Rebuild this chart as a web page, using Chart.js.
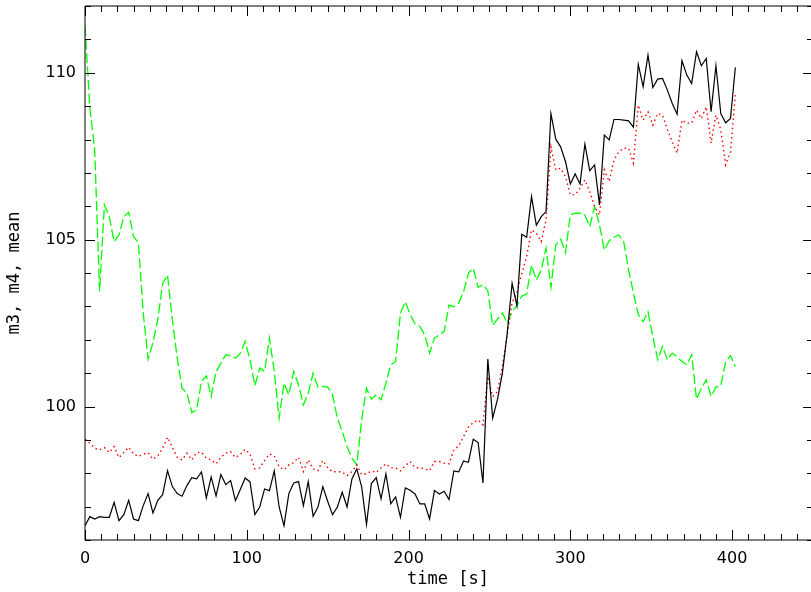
<!DOCTYPE html>
<html>
<head>
<meta charset="utf-8">
<script src="https://cdn.jsdelivr.net/npm/chart.js@4"></script>
<style>
  html, body { margin:0; padding:0; background:#fff; overflow:hidden; }
  #wrap { width:820px; height:592px; }
</style>
</head>
<body>
<div id="wrap"><canvas id="c"></canvas></div>
<script>
// sample times [s], one every 3 s
const time = [0,3,6,9,12,15,18,21,24,27,30,33,36,39,42,45,48,51,54,57,60,63,66,69,72,75,78,81,84,87,90,93,96,99,
  102,105,108,111,114,117,120,123,126,129,132,135,138,141,144,147,150,153,156,159,162,165,168,171,174,177,180,183,186,189,192,195,198,
  201,204,207,210,213,216,219,222,225,228,231,234,237,240,243,246,249,252,255,258,261,264,267,270,273,276,279,282,285,288,291,294,297,
  300,303,306,309,312,315,318,321,324,327,330,333,336,339,342,345,348,351,354,357,360,363,366,369,372,375,378,381,384,387,390,393,396,399,402];

// black solid
const m3 = [96.43,96.70,96.63,96.70,96.68,96.68,97.13,96.58,96.76,97.19,96.63,96.58,97.03,97.39,96.81,97.19,97.36,98.08,97.60,97.39,97.31,97.63,97.87,97.83,98.04,97.26,97.89,97.32,97.96,
  97.66,97.78,97.18,97.51,97.86,97.74,96.76,96.99,97.53,97.48,98.07,96.99,96.43,97.39,97.71,97.75,97.03,97.75,96.71,96.99,97.60,97.16,96.76,96.99,97.43,96.99,97.83,98.13,
  97.60,96.46,97.69,97.87,97.23,97.98,97.09,97.29,96.68,97.56,97.49,97.38,97.08,97.08,96.63,97.48,97.38,97.46,97.21,98.07,98.04,98.37,98.33,99.02,98.92,97.71,101.42,99.65,
  100.22,101.00,102.20,103.69,103.02,105.16,105.07,106.29,105.43,105.69,105.84,108.78,108.01,107.78,107.34,106.67,106.97,106.67,107.86,107.07,107.24,106.04,108.13,107.99,108.60,108.60,108.58,108.56,108.37,
  110.25,109.58,110.53,109.56,109.81,109.83,109.48,109.08,108.76,110.36,109.93,109.68,110.63,110.21,110.43,108.83,110.21,108.78,108.50,108.63,110.16];

// red dotted
const m4 = [99.02,98.90,98.75,98.70,98.77,98.62,98.80,98.47,98.62,98.78,98.58,98.50,98.57,98.62,98.42,98.52,98.75,99.08,98.78,98.48,98.40,98.60,98.40,98.62,98.63,98.45,98.40,98.28,98.48,
  98.60,98.65,98.47,98.57,98.72,98.57,98.13,98.16,98.38,98.58,98.52,98.20,98.10,98.25,98.32,98.48,98.05,98.40,98.13,98.08,98.38,98.17,98.04,98.05,98.04,97.93,98.05,98.25,
  97.96,97.98,98.07,98.02,98.16,98.28,98.16,98.16,98.07,98.23,98.35,98.17,98.16,98.13,98.08,98.35,98.35,98.30,98.28,98.70,98.82,99.10,99.38,99.52,99.60,99.45,100.90,100.30,
  100.45,101.20,102.15,103.12,103.40,103.99,104.49,105.29,105.19,104.94,105.59,107.78,107.09,107.14,106.89,106.34,106.34,106.54,106.79,106.44,105.99,105.74,107.09,106.74,107.39,107.63,107.74,107.74,107.29,
  109.03,108.58,108.83,108.43,108.78,108.73,108.29,107.93,107.59,108.58,108.49,108.49,108.88,108.63,108.98,107.89,108.73,108.29,107.24,107.63,109.33];

// green dashed
const mean = [111.40,108.95,107.70,103.45,106.04,105.69,104.94,105.14,105.69,105.82,105.09,104.91,102.80,101.42,101.90,102.60,103.69,103.94,102.60,101.45,100.55,100.40,99.82,99.90,100.75,100.92,100.30,101.04,101.30,
  101.55,101.52,101.45,101.60,101.95,101.40,100.62,101.15,101.05,102.05,101.05,99.65,100.70,100.35,101.05,100.65,100.05,100.40,101.00,100.58,100.60,100.58,100.35,99.65,99.25,98.80,98.45,98.25,
  99.60,100.55,100.22,100.35,100.20,100.70,101.25,101.35,102.80,103.14,102.75,102.48,102.40,102.15,101.60,102.05,102.15,102.25,103.04,102.99,103.10,103.44,103.99,104.14,103.57,103.65,103.47,102.43,
  102.62,102.80,102.50,102.84,103.02,103.31,103.37,104.24,103.79,104.09,104.74,103.57,104.84,105.01,104.61,105.74,105.79,105.79,105.74,105.39,105.99,105.44,104.69,104.97,105.07,105.14,104.94,104.09,103.40,
  102.75,102.54,102.84,102.10,101.40,101.80,101.40,101.60,101.48,101.35,101.25,101.55,100.22,100.55,100.80,100.30,100.58,100.62,101.35,101.52,101.20];

const xTitle = 'time [s]';
const yTitle = 'm3, m4, mean';
const titleFont = '17px "DejaVu Sans Mono"';

function pts(vals){ return vals.map((v,i)=>({x:time[i], y:v})); }

// frame with inward major/minor ticks on all four sides, plus axis titles
const frameTicks = {
  id:'frameTicks',
  afterDraw(chart){
    const {ctx, chartArea:a, scales:{x,y}} = chart;
    ctx.save();
    ctx.strokeStyle = '#000';
    ctx.lineWidth = 1;
    ctx.beginPath();
    ctx.moveTo(a.left, a.top); ctx.lineTo(a.right, a.top);
    ctx.lineTo(a.right, a.bottom); ctx.lineTo(a.left, a.bottom); ctx.closePath();
    for(let t=0; t<=x.max; t+=10){
      const px = Math.round(x.getPixelForValue(t)) + 0.5;
      const len = t % 100 === 0 ? 10 : 6;
      ctx.moveTo(px, a.bottom); ctx.lineTo(px, a.bottom - len);
      ctx.moveTo(px, a.top); ctx.lineTo(px, a.top + len);
    }
    for(let v=Math.ceil(y.min); v<=y.max; v+=1){
      const py = Math.round(y.getPixelForValue(v)) + 0.5;
      const len = v % 5 === 0 ? 10 : 6;
      ctx.moveTo(a.left, py); ctx.lineTo(a.left + len, py);
      ctx.moveTo(a.right, py); ctx.lineTo(a.right - len, py);
    }
    ctx.stroke();

    ctx.fillStyle = '#000';
    ctx.font = titleFont;
    ctx.textAlign = 'center';
    ctx.textBaseline = 'middle';
    ctx.fillText(xTitle, (a.left + 813) / 2 - 1, 580);
    ctx.translate(15, (a.top + a.bottom) / 2);
    ctx.rotate(-Math.PI / 2);
    ctx.fillText(yTitle, 0, 0);
    ctx.restore();
  }
};

new Chart(document.getElementById('c'), {
  type:'line',
  data:{ datasets:[
    { label:'m3', data:pts(m3), borderColor:'#000000', borderWidth:1.2, pointRadius:0, tension:0 },
    { label:'m4', data:pts(m4), borderColor:'#ff0000', borderWidth:1.4, borderDash:[1.5,3.2], pointRadius:0, tension:0 },
    { label:'mean', data:pts(mean), borderColor:'#00ff00', borderWidth:1.3, borderDash:[10,3.5], pointRadius:0, tension:0 }
  ]},
  options:{
    responsive:true, maintainAspectRatio:false, animation:false,
    layout:{ padding:{ top:6, right:7, left:0, bottom:0 } },
    plugins:{ legend:{display:false}, tooltip:{enabled:false} },
    scales:{
      x:{ type:'linear', min:0, max:450,
        grid:{ display:false, drawTicks:false }, border:{ display:false },
        ticks:{ stepSize:100, includeBounds:false, padding:9, color:'#000', maxRotation:0,
          font:{ family:'DejaVu Sans', size:16 } },
        afterFit(s){ s.height = 52; s.paddingLeft = 0; s.paddingRight = 0; }
      },
      y:{ min:96, max:112,
        grid:{ display:false, drawTicks:false }, border:{ display:false },
        ticks:{ stepSize:5, includeBounds:false, padding:9, color:'#000',
          font:{ family:'DejaVu Sans', size:16 } },
        afterFit(s){ s.width = 85; s.paddingTop = 0; s.paddingBottom = 0; }
      }
    }
  },
  plugins:[frameTicks]
});
</script>
</body>
</html>
